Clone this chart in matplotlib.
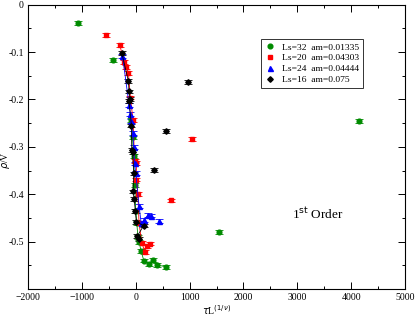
import numpy as np
import matplotlib
matplotlib.use("Agg")
import matplotlib.pyplot as plt

plt.rcParams['font.family'] = ['Liberation Serif', 'DejaVu Serif']

# Ls=32 am=0.01335 (green)
g_x = [-80, -60, -40, -20, 0, 20, 40, 60, 100, 150, 246, 320, 395, 555]
g_y = [-0.243, -0.28, -0.32, -0.38, -0.435, -0.46, -0.49, -0.50, -0.52, -0.54, -0.547, -0.538, -0.549, -0.553]
g_ox = [-1080, -420, 1537, 4142]
g_oy = [-0.039, -0.117, -0.480, -0.245]

# Ls=20 am=0.04303 (red)
r_x = [-296, -216, -173, -136, -99, -50, -20, 12, 12, 40, 61, 111, 172, 200, 259]
r_y = [-0.085, -0.121, -0.132, -0.144, -0.196, -0.244, -0.33, -0.334, -0.369, -0.40, -0.460, -0.502, -0.522, -0.51, -0.504]
r_ox = [-543, 648, 1049]
r_oy = [-0.064, -0.413, -0.283]

# Ls=24 am=0.04444 (blue)
b_x = [-246, -124, -99, -80, -50, -40, -20, 0, 61, 100, 150, 230, 290]
b_y = [-0.108, -0.211, -0.230, -0.245, -0.271, -0.30, -0.335, -0.355, -0.424, -0.46, -0.455, -0.443, -0.445]
b_ox = [432]
b_oy = [-0.457]

# Ls=16 am=0.075 (black)
k_x = [-259, -136, -124, -111, -124, -80, -74, -60, -37, -50, -30, -6, 12, 148, 31, 61]
k_y = [-0.102, -0.161, -0.183, -0.199, -0.204, -0.255, -0.306, -0.31, -0.356, -0.394, -0.41, -0.436, -0.459, -0.466, -0.488, -0.494]
k_ox = [963, 556, 339]
k_oy = [-0.163, -0.266, -0.349]

err = 0.004

fig = plt.figure(figsize=(4.15, 3.16), dpi=100)
ax = fig.add_axes([0.0675, 0.0854, 0.9085, 0.8996])

series = [
    (g_x, g_y, g_ox, g_oy, '#008b00', 'o', 3.4, 'Ls=32  am=0.01335'),
    (r_x, r_y, r_ox, r_oy, '#ff0000', 's', 3.2, 'Ls=20  am=0.04303'),
    (b_x, b_y, b_ox, b_oy, '#0000ff', '^', 3.6, 'Ls=24  am=0.04444'),
    (k_x, k_y, k_ox, k_oy, '#000000', 'D', 2.8, 'Ls=16  am=0.075'),
]
for xs, ys, oxs, oys, col, mk, ms, lab in series:
    ax.errorbar(xs, ys, yerr=err, color=col, marker=mk, ms=ms, lw=0.6,
                elinewidth=0.6, capsize=3, capthick=0.6)
    ax.errorbar(oxs, oys, yerr=err, color=col, marker=mk, ms=ms, ls='none',
                elinewidth=0.6, capsize=3, capthick=0.6)
    ax.plot([], [], color=col, marker=mk, ms=ms, ls='none', label=lab)

ax.set_xlim(-2000, 5000)
ax.set_ylim(-0.6, 0)
ax.set_xticks(np.arange(-2000, 5001, 1000))
ax.set_xticks(np.arange(-1500, 5000, 1000), minor=True)
ax.set_yticks([0, -0.1, -0.2, -0.3, -0.4, -0.5])
ax.set_yticklabels(['0', '-0.1', '-0.2', '-0.3', '-0.4', '-0.5'])
ax.set_yticks(np.arange(-0.55, 0, 0.1), minor=True)
ax.tick_params(which='both', direction='in', top=True, right=True,
               labelsize=7, width=0.7, pad=3)
ax.tick_params(which='major', length=5)
ax.tick_params(which='minor', length=2.5)
for s in ax.spines.values():
    s.set_linewidth(0.8)

ax.set_xlabel(r'$\tau$L$^{(1/\nu)}$', fontsize=7, labelpad=1)
ax.set_ylabel(r'$\rho$/V', fontsize=7)
ax.yaxis.set_label_coords(-0.042, 0.455)

ax.text(2900, -0.452, r'1$^{\mathrm{st}}$ Order', fontsize=9.5)

leg = ax.legend(loc='upper left', bbox_to_anchor=(0.618, 0.879), fontsize=6.8,
                frameon=True, fancybox=False, shadow=False, handletextpad=0.6,
                borderpad=0.4, labelspacing=0.25, handlelength=1.2,
                borderaxespad=0)
leg.get_frame().set_edgecolor('black')
leg.get_frame().set_linewidth(0.7)

fig.savefig('out.png', dpi=100)
